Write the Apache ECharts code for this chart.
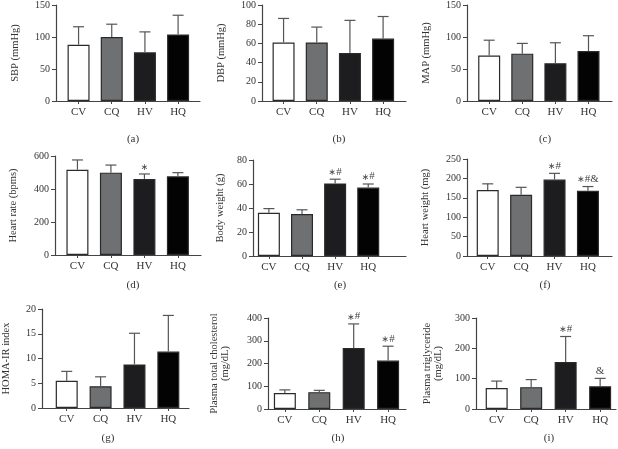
<!DOCTYPE html>
<html>
<head>
<meta charset="utf-8">
<script src="https://cdn.jsdelivr.net/npm/echarts@6/dist/echarts.min.js"></script>
<style>html,body{margin:0;padding:0;background:#fff}#c{width:618px;height:449px}</style>
</head>
<body>
<div id="c"></div>
<script>
const categories = ['CV', 'CQ', 'HV', 'HQ'];
const barColors = ['#ffffff', '#6f7072', '#1d1d1f', '#030303'];

const sbpMean = [88, 100, 76, 104];
const sbpSD = [28, 20, 32, 30];
const dbpMean = [61, 61, 50, 65];
const dbpSD = [25, 16, 34, 23];
const mapMean = [71, 74, 59, 78];
const mapSD = [24, 16, 32, 24];
const hrMean = [517, 499, 461, 477];
const hrSD = [59, 46, 30, 22];
const bwMean = [36, 35, 60.5, 57];
const bwSD = [3.5, 3.5, 3.5, 3];
const hwMean = [170, 158, 197, 168];
const hwSD = [16, 19, 16, 11];
const homaMean = [5.5, 4.4, 8.8, 11.4];
const homaSD = [1.9, 1.9, 6.3, 7.3];
const tcMean = [70, 74, 268, 213];
const tcSD = [14, 8, 106, 63];
const tgMean = [69, 72, 155, 75];
const tgSD = [23, 25, 84, 26];

// significance marks: [asterisk, rest]
const hrMarks = [['', ''], ['', ''], ['∗', ''], ['', '']];
const bwMarks = [['', ''], ['', ''], ['∗', '#'], ['∗', '#']];
const hwMarks = [['', ''], ['', ''], ['∗', '#'], ['∗', '#&']];
const tcMarks = [['', ''], ['', ''], ['∗', '#'], ['∗', '#']];
const tgMarks = [['', ''], ['', ''], ['∗', '#'], ['', '&']];

const panelLabels = ['(a)', '(b)', '(c)', '(d)', '(e)', '(f)', '(g)', '(h)', '(i)'];

const panels = [
  {name: 'SBP (mmHg)', mean: sbpMean, sd: sbpSD, marks: null, ymax: 150, yint: 50, nameGap: 35,
   grid: {left: 56, top: 5, width: 144, height: 96}, xr: [-0.68, 3.66], lab: [128, 136]},
  {name: 'DBP (mmHg)', mean: dbpMean, sd: dbpSD, marks: null, ymax: 100, yint: 20, nameGap: 35,
   grid: {left: 262, top: 5, width: 144, height: 96}, xr: [-0.65, 3.69], lab: [334, 136]},
  {name: 'MAP (mmHg)', mean: mapMean, sd: mapSD, marks: null, ymax: 150, yint: 50, nameGap: 35,
   grid: {left: 467, top: 4, width: 145, height: 97}, xr: [-0.67, 3.71], lab: [540, 136]},
  {name: 'Heart rate (bpms)', mean: hrMean, sd: hrSD, marks: hrMarks, ymax: 600, yint: 200, nameGap: 36,
   grid: {left: 55, top: 156, width: 146, height: 99}, xr: [-0.67, 3.69], lab: [128, 282]},
  {name: 'Body weight (g)', mean: bwMean, sd: bwSD, marks: bwMarks, ymax: 80, yint: 20, nameGap: 27,
   grid: {left: 253, top: 160, width: 153, height: 96}, xr: [-0.48, 4.14], lab: [335, 282]},
  {name: 'Heart weight (mg)', mean: hwMean, sd: hwSD, marks: hwMarks, ymax: 250, yint: 50, nameGap: 36,
   grid: {left: 467, top: 159, width: 145, height: 97}, xr: [-0.62, 3.72], lab: [540, 282]},
  {name: 'HOMA-IR index', mean: homaMean, sd: homaSD, marks: null, ymax: 20, yint: 5, nameGap: 30,
   grid: {left: 42, top: 309, width: 147, height: 99}, xr: [-0.73, 3.61], lab: [103, 435]},
  {name: 'Plasma total cholesterol\n(mg/dL)', mean: tcMean, sd: tcSD, marks: tcMarks, ymax: 400, yint: 100, nameGap: 37,
   grid: {left: 268, top: 318, width: 138, height: 91}, xr: [-0.49, 3.52], lab: [333, 435]},
  {name: 'Plasma triglyceride\n(mg/dL)', mean: tgMean, sd: tgSD, marks: tgMarks, ymax: 300, yint: 100, nameGap: 32,
   grid: {left: 476, top: 318, width: 140, height: 91}, xr: [-0.6, 3.46], lab: [544, 435]}
];

const FONT = 'Liberation Serif';
const TXT = '#333';
const AX = '#444';

const option = {
  animation: false,
  backgroundColor: '#fff',
  grid: [], xAxis: [], yAxis: [], series: [], title: []
};

panels.forEach((p, i) => {
  option.grid.push(Object.assign({}, p.grid, {containLabel: false}));
  option.xAxis.push({
    type: 'value', gridIndex: i, position: 'bottom', min: p.xr[0], max: p.xr[1],
    splitLine: {show: false},
    axisLine: {show: true, onZero: false, lineStyle: {color: AX, width: 1.2}},
    axisTick: {show: true, inside: false, length: 3, customValues: [0, 1, 2, 3], lineStyle: {color: AX}},
    axisLabel: {
      customValues: [0, 1, 2, 3], margin: 6,
      formatter: v => categories[Math.round(v)] || '',
      color: TXT, fontFamily: FONT, fontSize: 11
    }
  });
  option.yAxis.push({
    type: 'value', gridIndex: i, position: 'left', min: 0, max: p.ymax, interval: p.yint,
    name: p.name, nameLocation: 'middle', nameGap: p.nameGap,
    nameTextStyle: {color: TXT, fontFamily: FONT, fontSize: 10.5, lineHeight: 11},
    splitLine: {show: false},
    axisLine: {show: true, onZero: false, lineStyle: {color: AX, width: 1.2}},
    axisTick: {show: true, inside: false, length: 4, lineStyle: {color: AX}},
    axisLabel: {color: TXT, fontFamily: FONT, fontSize: 10, margin: 6}
  });
  option.series.push({
    type: 'bar', xAxisIndex: i, yAxisIndex: i, barWidth: 22,
    data: p.mean.map((v, k) => ({
      value: [k, v],
      itemStyle: {color: barColors[k], borderColor: '#2a2a2a', borderWidth: 1.2}
    })),
    z: 2
  });
  const marks = p.marks;
  option.series.push({
    type: 'custom', xAxisIndex: i, yAxisIndex: i, z: 5,
    data: p.mean.map((v, k) => [k, v, v + p.sd[k]]),
    renderItem: function (params, api) {
      const k = api.value(0);
      const base = api.coord([k, api.value(1)]);
      const top = api.coord([k, api.value(2)]);
      const half = 5.5;
      const children = [
        {type: 'line', shape: {x1: base[0], y1: base[1], x2: top[0], y2: top[1]},
         style: {stroke: '#555', lineWidth: 1.2}},
        {type: 'line', shape: {x1: top[0] - half, y1: top[1], x2: top[0] + half, y2: top[1]},
         style: {stroke: '#555', lineWidth: 1.2}}
      ];
      const m = marks ? marks[params.dataIndex] : null;
      if (m && (m[0] || m[1])) {
        let txt = '';
        if (m[0]) txt += '{s|' + m[0] + '}';
        if (m[1]) txt += '{t|' + m[1] + '}';
        children.push({type: 'text', x: top[0], y: top[1] - 2,
          style: {text: txt, align: 'center', verticalAlign: 'bottom',
            rich: {
              s: {fontSize: 9, fontFamily: 'DejaVu Sans', fill: '#444', lineHeight: 12, verticalAlign: 'bottom'},
              t: {fontSize: 11, fontFamily: FONT, fill: '#444', lineHeight: 12, verticalAlign: 'bottom'}
            }}});
      }
      return {type: 'group', children: children};
    }
  });
  option.title.push({
    text: panelLabels[i], left: p.lab[0], top: p.lab[1] - 7, textAlign: 'center',
    textStyle: {color: TXT, fontFamily: FONT, fontSize: 11, fontWeight: 'normal'}
  });
});

const chart = echarts.init(document.getElementById('c'), null, {renderer: 'canvas'});
chart.setOption(option);
</script>
</body>
</html>
